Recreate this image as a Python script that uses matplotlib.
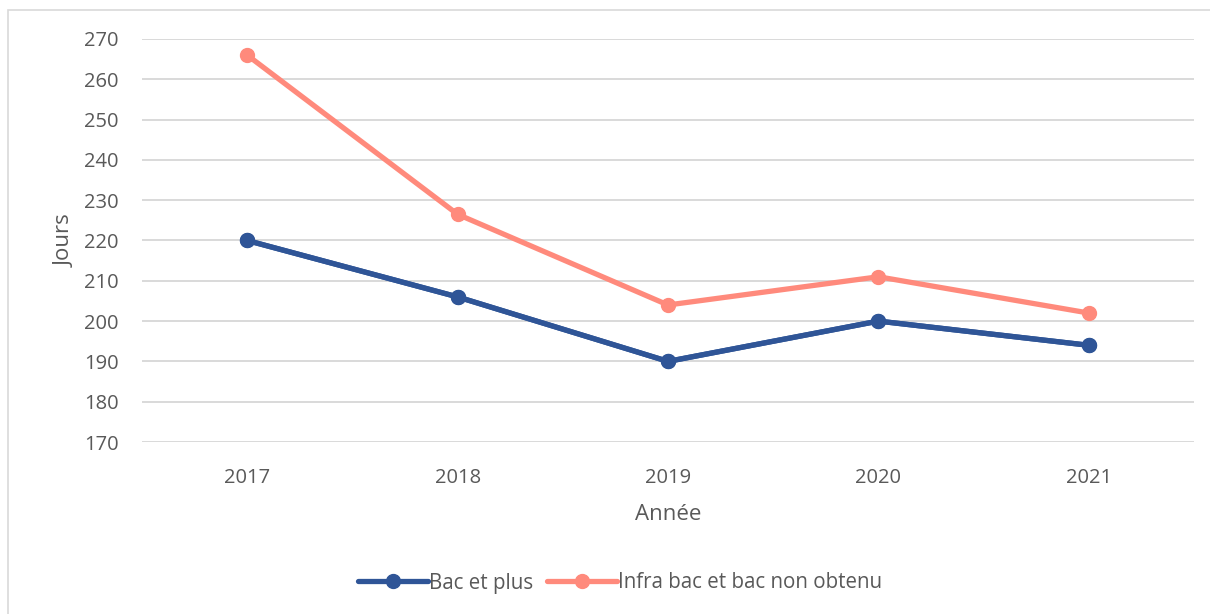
import matplotlib
matplotlib.use("Agg")
import matplotlib.pyplot as plt
from matplotlib.patches import Rectangle

years = ["2017", "2018", "2019", "2020", "2021"]
bac_et_plus = [220, 206, 190, 200, 194]
infra_bac = [266, 226.5, 204, 211, 202]
yticks = [170, 180, 190, 200, 210, 220, 230, 240, 250, 260, 270]

plt.rcParams['font.family'] = ['Open Sans', 'DejaVu Sans']
txt = '#595959'

W, H = 1210, 614
fig = plt.figure(figsize=(W / 100, H / 100), dpi=100)
fig.patches.append(Rectangle((8 / W, 0 - 0.01), 1.1, (H - 10) / H + 0.01,
                             transform=fig.transFigure, fill=False,
                             edgecolor='#D9D9D9', linewidth=1.2))

ax = fig.add_axes([142 / W, (H - 442) / H, (1194 - 142) / W, (442 - 39) / H])
x = list(range(len(years)))
ax.plot(x, bac_et_plus, color='#2F5597', lw=3.8, marker='o', ms=10,
        label='Bac et plus', solid_capstyle='round')
ax.plot(x, infra_bac, color='#FF8A7C', lw=3.8, marker='o', ms=10,
        label='Infra bac et bac non obtenu', solid_capstyle='round')
ax.plot(x, bac_et_plus, color='#2F5597', lw=3.8, marker='o', ms=10, zorder=3)

ax.set_xlim(-0.5, len(years) - 0.5)
ax.set_ylim(170, 270)
ax.set_xticks(x)
ax.set_xticklabels(years)
ax.set_yticks(yticks)
ax.grid(axis='y', color='#D9D9D9', lw=1.4)
ax.set_axisbelow(True)
for s in ax.spines.values():
    s.set_visible(False)
ax.tick_params(length=0, labelsize=14.5, labelcolor=txt)
ax.tick_params(axis='x', pad=19)
ax.tick_params(axis='y', pad=17)
ax.set_xlabel('Année', fontsize=16, color=txt, labelpad=11)
ax.set_ylabel('Jours', fontsize=16, color=txt, labelpad=6)

leg = fig.legend(loc='center', bbox_to_anchor=(620 / W, (H - 583) / H), ncol=2,
                 frameon=False, fontsize=14.8, handlelength=3.4,
                 handletextpad=0.05, columnspacing=0.7, labelcolor=txt)

fig.savefig('out.png', dpi=100)
